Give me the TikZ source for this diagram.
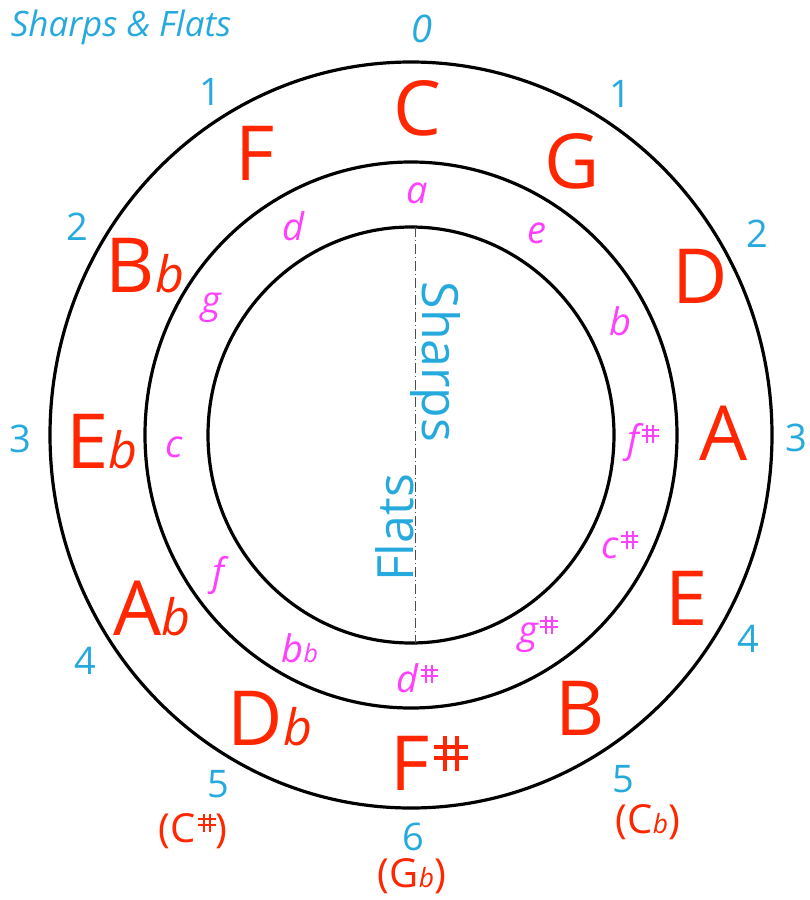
\documentclass[tikz,border=0pt]{standalone}
\usepackage{fontspec}
\setmainfont{Open Sans}
\usepackage{graphicx}
\usepackage{tikz}
\usepackage{xcolor}
\definecolor{keyred}{RGB}{255,38,0}
\definecolor{countblue}{RGB}{38,170,222}
\definecolor{minorpink}{RGB}{255,64,255}
\newcommand{\flt}{\scalebox{0.66}{\itshape b}}
\newcommand{\shp}{\kern0.06em\raisebox{0.25em}{%
  \rlap{\kern0.12em\rule{0.055em}{0.46em}}%
  \rlap{\kern0.28em\rule{0.055em}{0.46em}}%
  \rlap{\raisebox{0.14em}{\rule{0.45em}{0.055em}}}%
  \raisebox{0.29em}{\rule{0.45em}{0.055em}}}}

\begin{document}
\begin{tikzpicture}[x=1pt, y=-1pt,
    ring/.style={draw=black, line width=3.2pt},
    axis/.style={draw=black!70, line width=0.8pt,
                 dash pattern=on 10pt off 3pt on 1pt off 3pt},
    major/.style={anchor=base, inner sep=0pt, text=keyred,
                  font=\fontsize{76}{80}\selectfont},
    minor/.style={anchor=base, inner sep=0pt, text=minorpink,
                  font=\fontsize{38}{42}\selectfont\itshape},
    count/.style={anchor=base, inner sep=0pt, text=countblue,
                  font=\fontsize{38}{42}\selectfont},
    enh/.style={anchor=base, inner sep=0pt, text=keyred,
                font=\fontsize{40}{44}\selectfont},
    side/.style={anchor=base, inner sep=0pt, text=countblue,
                 font=\fontsize{50}{54}\selectfont}
]
    \useasboundingbox (0,0) rectangle (810,900);

    % rings
    \coordinate (ctr) at (411,435);
    \draw[ring] (ctr) ellipse [x radius=361, y radius=373];
    \draw[ring] (ctr) ellipse [x radius=266, y radius=273];
    \draw[ring] (ctr) ellipse [x radius=203, y radius=208];

    % divider
    \coordinate (axtop) at (415,227);
    \coordinate (axbot) at (415,643);
    \draw[axis] (axtop) -- (axbot);
    \node[side, rotate=-90] (sharps) at (422,362) {Sharps};
    \node[side, rotate=90] (flats) at (413,528) {Flats};

    % title
    \node[count, font=\fontsize{35}{40}\selectfont\itshape] (title) at (121,36) {Sharps \& Flats};

    % major keys
    \node[major] (C)  at (417,135) {C};
    \node[major] (G)  at (572,188) {G};
    \node[major] (D)  at (700,303) {D};
    \node[major] (A)  at (724,460) {A};
    \node[major] (E)  at (687,625) {E};
    \node[major] (B)  at (580,735) {B};
    \node[major] (Fs) at (429,790) {F\shp};
    \node[major] (Db) at (270,745) {D\flt};
    \node[major] (Ab) at (152,635) {A\flt};
    \node[major] (Eb) at (102,468) {E\flt};
    \node[major] (Bb) at (145,292) {B\flt};
    \node[major] (F)  at (255,180) {F};

    % minor keys
    \node[minor] (a)  at (417,203) {a};
    \node[minor] (e)  at (537,243) {e};
    \node[minor] (b)  at (620,335) {b};
    \node[minor] (fs) at (643,452) {f\shp};
    \node[minor] (cs) at (620,558) {c\shp};
    \node[minor] (gs) at (538,643) {g\shp};
    \node[minor] (ds) at (417,692) {d\shp};
    \node[minor] (bb) at (300,662) {b\flt};
    \node[minor] (f)  at (218,585) {f};
    \node[minor] (c)  at (174,457) {c};
    \node[minor] (g)  at (211,313) {g};
    \node[minor] (d)  at (293,240) {d};

    % number of sharps or flats
    \node[count, font=\fontsize{38}{42}\selectfont\itshape] (n0) at (422,42) {0};
    \node[count] (n1l) at (210,105) {1};
    \node[count] (n1r) at (620,107) {1};
    \node[count] (n2l) at (77,240) {2};
    \node[count] (n2r) at (757,247) {2};
    \node[count] (n3l) at (20,452) {3};
    \node[count] (n3r) at (796,451) {3};
    \node[count] (n4l) at (85,674) {4};
    \node[count] (n4r) at (748,652) {4};
    \node[count] (n5l) at (218,797) {5};
    \node[count] (n5r) at (623,792) {5};
    \node[count] (n6)  at (413,850) {6};

    % enharmonic keys
    \node[enh] (Cs) at (193,842) {(C\shp)};
    \node[enh] (Cb) at (648,833) {(C\flt)};
    \node[enh] (Gb) at (412,887) {(G\flt)};
\end{tikzpicture}
\end{document}
